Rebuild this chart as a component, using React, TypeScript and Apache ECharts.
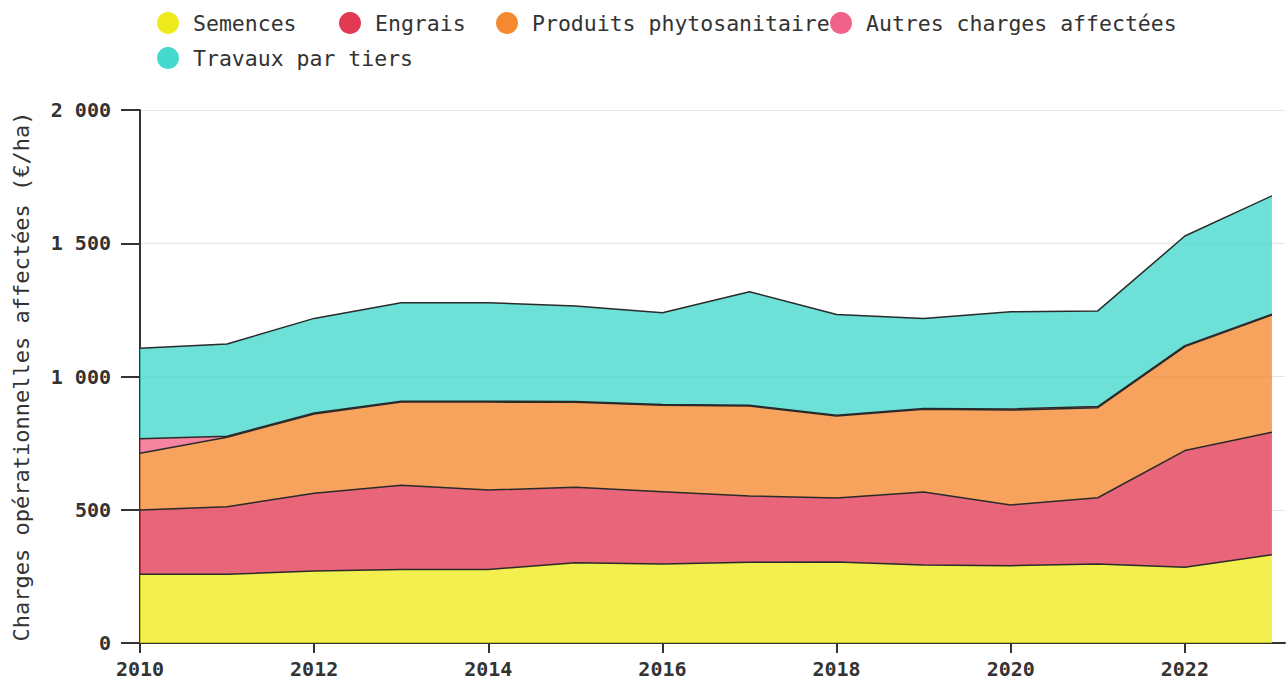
import React, { useEffect, useRef } from "react";
import * as echarts from "echarts";

const years = [2010, 2011, 2012, 2013, 2014, 2015, 2016, 2017, 2018, 2019, 2020, 2021, 2022, 2023];
const semences = [258, 258, 270, 276, 276, 301, 296, 303, 304, 293, 290, 296, 284, 331];
const engrais = [241, 253, 292, 316, 298, 283, 272, 249, 240, 274, 228, 249, 438, 460];
const phyto = [213, 261, 297, 312, 330, 319, 324, 337, 308, 310, 356, 338, 390, 440];
const autres = [54, 4, 4, 3, 3, 3, 3, 3, 3, 3, 4, 4, 4, 3];
const travaux = [340, 346, 355, 370, 370, 359, 344, 426, 378, 338, 365, 359, 411, 444];

const seriesNames = [
  "Semences",
  "Engrais",
  "Produits phytosanitaire",
  "Autres charges affectées",
  "Travaux par tiers",
];
const seriesColors = ["#EFEA1C", "#E33A53", "#F5892F", "#F26187", "#44D9CC"];

const xTickValues = [2010, 2012, 2014, 2016, 2018, 2020, 2022];
const yTickValues = [0, 500, 1000, 1500, 2000];
const yTickLabels = ["0", "500", "1 000", "1 500", "2 000"];

const yTitle = "Charges opérationnelles affectées (€/ha)";
const FONT = "'DejaVu Sans Mono', monospace";

export default function App() {
  const ref = useRef<HTMLDivElement>(null);
  useEffect(() => {
    if (!ref.current) return;
    const chart = echarts.init(ref.current, null, { renderer: "svg" });
    const valuesList = [semences, engrais, phyto, autres, travaux];
    const legendPos = [
      { left: 152, top: 7 },
      { left: 334, top: 7 },
      { left: 491, top: 7 },
      { left: 825, top: 7 },
      { left: 152, top: 42 },
    ];
    chart.setOption({
      animation: false,
      legend: seriesNames.map((n, i) => ({
        data: [n],
        left: legendPos[i].left,
        top: legendPos[i].top,
        icon: "circle",
        itemWidth: 40,
        itemHeight: 22,
        selectedMode: false,
        itemStyle: { borderWidth: 0 },
        textStyle: { fontFamily: FONT, fontSize: 21.5, color: "#333" },
      })),
      grid: { left: 140, right: 3, top: 110, bottom: 39 },
      xAxis: {
        type: "value",
        min: 2010,
        max: 2023.15,
        interval: 2,
        splitLine: { show: false },
        axisLine: { show: true, lineStyle: { color: "#333", width: 2 } },
        axisTick: { show: true, length: 10, customValues: xTickValues, lineStyle: { color: "#333", width: 2 } },
        axisLabel: {
          customValues: xTickValues,
          margin: 16,
          fontFamily: FONT,
          fontSize: 20,
          fontWeight: "bold",
          color: "#333",
          formatter: (v: number) => String(v),
        },
      },
      yAxis: {
        type: "value",
        min: 0,
        max: 2000,
        interval: 500,
        name: yTitle,
        nameLocation: "middle",
        nameGap: 108,
        nameTextStyle: { fontFamily: FONT, fontSize: 22, color: "#333" },
        splitLine: { show: true, lineStyle: { color: "#e6e6e6", width: 1 } },
        axisLine: { show: true, lineStyle: { color: "#333", width: 2 } },
        axisTick: { show: true, length: 19, lineStyle: { color: "#333", width: 2 } },
        axisLabel: {
          margin: 29,
          fontFamily: FONT,
          fontSize: 20,
          fontWeight: "bold",
          color: "#333",
          formatter: (v: number) => {
            const i = yTickValues.indexOf(v);
            return i >= 0 ? yTickLabels[i] : "";
          },
        },
      },
      series: seriesNames.map((n, i) => ({
        name: n,
        type: "line",
        stack: "total",
        symbol: "none",
        color: seriesColors[i],
        itemStyle: { color: seriesColors[i] },
        lineStyle: { color: "#2a2a2a", width: 1.5 },
        areaStyle: { color: seriesColors[i], opacity: 0.78 },
        encode: { x: 1, y: 0 },
        data: years.map((y, k) => [valuesList[i][k], y]),
      })),
    });
    return () => chart.dispose();
  }, []);
  return <div ref={ref} style={{ width: 1288, height: 682, position: "absolute", left: 0, top: 0 }} />;
}
